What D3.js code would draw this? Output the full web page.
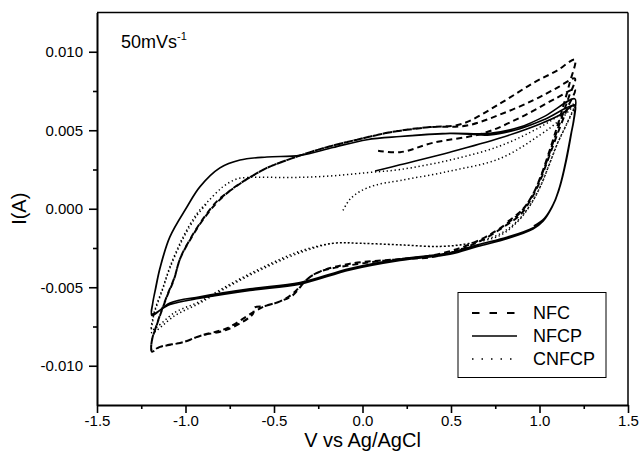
<!DOCTYPE html>
<html>
<head>
<meta charset="utf-8">
<script src="https://cdn.jsdelivr.net/npm/d3@7"></script>
<style>
html,body{margin:0;padding:0;background:#fff;}
svg{display:block;}
text{font-family:"Liberation Sans",Arial,sans-serif;fill:#000;}
</style>
</head>
<body>
<svg id="chart" width="642" height="463"></svg>
<script>
// ---------------- DATA ----------------
const xTicks = [-1.5, -1.0, -0.5, 0.0, 0.5, 1.0, 1.5];
const xMinorTicks = [-1.25, -0.75, -0.25, 0.25, 0.75, 1.25];
const yTicks = [-0.010, -0.005, 0.000, 0.005, 0.010];
const yMinorTicks = [-0.0075, -0.0025, 0.0025, 0.0075];
const seriesNames = ["NFC", "NFCP", "CNFCP"];
const annotation = "50mVs";
const annotationSup = "-1";
const xTitle = "V vs Ag/AgCl";
const yTitle = "I(A)";

// NFC (dashed): [V, I] points along the scan
const nfcPoints = [
  [0.088,0.0037],[0.212,0.0036],[0.398,0.0042],[0.681,0.0048],[0.890,0.0058],[1.088,0.0070],[1.2,0.0076],
  [1.161,0.0065],[1.116,0.0052],[1.076,0.0040],[1.037,0.0028],[0.997,0.0016],[0.952,0.0006],[0.890,-0.0004],[0.805,-0.0011],[0.692,-0.0019],[0.551,-0.0026],[0.381,-0.0031],[0.212,-0.0032],[-0.071,-0.0036],[-0.240,-0.0040],[-0.314,-0.0045],[-0.393,-0.0055],[-0.466,-0.0059],[-0.551,-0.0062],[-0.612,-0.0063],[-0.619,-0.0067],[-0.765,-0.0077],[-0.918,-0.0081],[-1.014,-0.0085],[-1.144,-0.0088],[-1.19,-0.0091],
  [-1.19,-0.0084],[-1.165,-0.0075],[-1.144,-0.0068],[-1.105,-0.0056],[-1.065,-0.0045],[-1.031,-0.0032],[-0.975,-0.0020],[-0.901,-0.0007],[-0.822,0.0004],[-0.732,0.0013],[-0.636,0.0020],[-0.540,0.0026],[-0.427,0.0031],[-0.240,0.0038],[-0.031,0.0044],[0.172,0.0049],[0.381,0.0052],[0.590,0.0053],[0.777,0.0060],[0.963,0.0069],[1.099,0.0077],[1.2,0.0083],
  [1.165,0.0071],[1.122,0.0057],[1.082,0.0044],[1.043,0.0031],[1.003,0.0019],[0.957,0.0008],[0.895,-0.0002],[0.808,-0.0010],[0.695,-0.0018],[0.551,-0.0025],[0.381,-0.0030],[0.212,-0.0032],[-0.071,-0.0035],[-0.240,-0.0040],[-0.314,-0.0045],[-0.393,-0.0054],[-0.466,-0.0059],[-0.551,-0.0062],[-0.619,-0.0066],[-0.765,-0.0076],[-0.918,-0.0081],[-1.014,-0.0085],[-1.144,-0.0088],[-1.19,-0.0090],
  [-1.188,-0.0083],[-1.163,-0.0074],[-1.142,-0.0067],[-1.103,-0.0055],[-1.063,-0.0044],[-1.028,-0.0031],[-0.972,-0.0019],[-0.898,-0.0006],[-0.820,0.0005],[-0.730,0.0013],[-0.636,0.0020],[-0.540,0.0026],[-0.427,0.0031],[-0.240,0.0038],[-0.031,0.0044],[0.172,0.0049],[0.381,0.0052],[0.560,0.0054],[0.777,0.0067],[0.963,0.0080],[1.099,0.0088],[1.2,0.0095],
  [1.170,0.0080],[1.128,0.0063],[1.088,0.0048],[1.048,0.0034],[1.008,0.0021],[0.962,0.0009],[0.900,-0.0001],[0.810,-0.0009]
];

// NFCP (solid)
const nfcpPoints = [
  [0.071,0.0024],[0.212,0.0028],[0.494,0.0036],[0.777,0.0045],[1.003,0.0054],[1.120,0.0060],[1.2,0.0066],
  [1.195,0.0057],[1.172,0.0044],[1.144,0.0028],[1.110,0.0012],[1.071,0.0001],[1.020,-0.0008],[0.963,-0.0013],[0.820,-0.0019],[0.650,-0.0024],[0.494,-0.0029],[0.212,-0.0033],[-0.071,-0.0039],[-0.353,-0.0048],[-0.636,-0.0052],[-0.918,-0.0057],[-1.088,-0.0061],[-1.19,-0.0067],
  [-1.185,-0.0060],[-1.167,-0.0050],[-1.144,-0.0038],[-1.088,-0.0018],[-0.992,0.0001],[-0.918,0.0014],[-0.805,0.0026],[-0.692,0.0031],[-0.540,0.0033],[-0.353,0.0034],[-0.167,0.0039],[0.025,0.0044],[0.212,0.0046],[0.494,0.0048],[0.720,0.0047],[0.890,0.0051],[1.031,0.0057],[1.2,0.0066],
  [1.197,0.0059],[1.175,0.0046],[1.148,0.0030],[1.114,0.0014],[1.075,0.0002],[1.025,-0.0007],[0.965,-0.0012],[0.820,-0.0018],[0.650,-0.0023],[0.494,-0.0028],[0.212,-0.0032],[-0.071,-0.0038],[-0.353,-0.0047],[-0.636,-0.0051],[-0.918,-0.0056],[-1.088,-0.0060],[-1.19,-0.0068],
  [-1.186,-0.0061],[-1.168,-0.0050],[-1.145,-0.0038],[-1.089,-0.0018],[-0.993,0.0001],[-0.919,0.0014],[-0.806,0.0026],[-0.692,0.0031],[-0.540,0.0033],[-0.353,0.0034],[-0.167,0.0039],[0.025,0.0044],[0.212,0.0046],[0.494,0.0048],[0.720,0.0048],[0.890,0.0052],[1.031,0.0059],[1.2,0.0070],
  [1.198,0.0061],[1.180,0.0048],[1.152,0.0031],[1.118,0.0015],[1.078,0.0003],[1.028,-0.0006],[0.968,-0.0011]
];

// CNFCP (dotted)
const cnfcpPoints = [
  [-0.110,-0.0001],[-0.071,0.0006],[-0.014,0.0011],[0.071,0.0015],[0.212,0.0018],[0.494,0.0024],[0.777,0.0032],[1.003,0.0047],[1.120,0.0057],[1.2,0.0066],
  [1.150,0.0053],[1.099,0.0041],[1.054,0.0028],[1.008,0.0015],[0.952,0.0003],[0.878,-0.0008],[0.777,-0.0017],[0.607,-0.0022],[0.438,-0.0024],[0.212,-0.0023],[-0.014,-0.0022],[-0.167,-0.0022],[-0.353,-0.0027],[-0.540,-0.0036],[-0.732,-0.0047],[-0.918,-0.0059],[-1.059,-0.0066],[-1.19,-0.0077],
  [-1.185,-0.0070],[-1.172,-0.0064],[-1.127,-0.0050],[-1.088,-0.0037],[-1.014,-0.0018],[-0.935,-0.0003],[-0.879,0.0004],[-0.788,0.0014],[-0.709,0.0019],[-0.636,0.0020],[-0.540,0.0020],[-0.353,0.0020],[-0.167,0.0021],[0.025,0.0023],[0.212,0.0025],[0.494,0.0031],[0.777,0.0040],[1.003,0.0052],[1.144,0.0062],[1.2,0.0067],
  [1.153,0.0054],[1.103,0.0042],[1.058,0.0029],[1.012,0.0016],[0.956,0.0004],[0.882,-0.0007],[0.777,-0.0016],[0.607,-0.0022],[0.438,-0.0024],[0.212,-0.0023],[-0.014,-0.0022],[-0.167,-0.0022],[-0.353,-0.0028],[-0.540,-0.0037],[-0.732,-0.0048],[-0.918,-0.0060],[-1.059,-0.0068],[-1.19,-0.0079],
  [-1.186,-0.0072],[-1.175,-0.0066],[-1.131,-0.0052],[-1.092,-0.0039],[-1.018,-0.0020],[-0.940,-0.0005],[-0.882,0.0003]
];

// ---------------- CHART ----------------
const svg = d3.select("#chart");
const x = d3.scaleLinear().domain([-1.5, 1.5]).range([97, 628]);
const y = d3.scaleLinear().domain([-0.0125, 0.0125]).range([405, 12.5]);
const fmt = f => (d => d3.format(f)(d).replace("\u2212", "-"));

// frame (top/right)
svg.append("line").attr("x1", x(-1.5)).attr("x2", x(1.5)).attr("y1", y(0.0125)).attr("y2", y(0.0125))
  .attr("stroke", "#000").attr("stroke-width", 1.5);
svg.append("line").attr("x1", x(1.5)).attr("x2", x(1.5)).attr("y1", y(0.0125)).attr("y2", y(-0.0125))
  .attr("stroke", "#000").attr("stroke-width", 1.5);

// curves
const line = d3.line().x(d => x(d[0])).y(d => y(d[1])).curve(d3.curveCatmullRom.alpha(0.5));
const styles = [
  {data: nfcPoints, dash: "6,4", w: 2},
  {data: nfcpPoints, dash: null, w: 1.6},
  {data: cnfcpPoints, dash: "1.3,2.7", w: 1.5}
];
styles.forEach(s => {
  svg.append("path").datum(s.data).attr("d", line)
    .attr("fill", "none").attr("stroke", "#000").attr("stroke-width", s.w)
    .attr("stroke-dasharray", s.dash).attr("stroke-linejoin", "round");
});

// axes
svg.append("g").attr("transform", `translate(0,${y(-0.0125)})`)
  .call(d3.axisBottom(x).tickValues(xTicks).tickFormat(fmt(".1f")).tickSize(8).tickSizeOuter(0).tickPadding(2));
svg.append("g").attr("transform", `translate(0,${y(-0.0125)})`)
  .call(d3.axisBottom(x).tickValues(xMinorTicks).tickFormat("").tickSize(4).tickSizeOuter(0))
  .select(".domain").remove();
svg.append("g").attr("transform", `translate(${x(-1.5)},0)`)
  .call(d3.axisLeft(y).tickValues(yTicks).tickFormat(fmt(".3f")).tickSize(8).tickSizeOuter(0).tickPadding(6));
svg.append("g").attr("transform", `translate(${x(-1.5)},0)`)
  .call(d3.axisLeft(y).tickValues(yMinorTicks).tickFormat("").tickSize(4).tickSizeOuter(0))
  .select(".domain").remove();
svg.selectAll(".domain").attr("stroke", "#000").attr("stroke-width", 2);
svg.selectAll(".tick line").attr("stroke", "#000").attr("stroke-width", 1.6);
svg.selectAll(".tick text").attr("font-family", "Liberation Sans, Arial, sans-serif")
  .attr("font-size", 15).attr("fill", "#000");

// titles
svg.append("text").attr("x", (x(-1.5) + x(1.5)) / 2).attr("y", 447).attr("text-anchor", "middle")
  .attr("font-size", 20).text(xTitle);
svg.append("text").attr("transform", `translate(26,${y(0)}) rotate(-90)`).attr("text-anchor", "middle")
  .attr("font-size", 20).text(yTitle);

// annotation
const ann = svg.append("text").attr("x", 121).attr("y", 48).attr("font-size", 18);
ann.append("tspan").text(annotation);
ann.append("tspan").attr("font-size", 11).attr("dy", -8).text(annotationSup);

// legend
const lg = svg.append("g");
lg.append("rect").attr("x", 458).attr("y", 292.5).attr("width", 148).attr("height", 85)
  .attr("fill", "#fff").attr("stroke", "#000").attr("stroke-width", 1);
const legDash = ["7.5,10", null, "1.5,8"];
const legW = [2, 1.5, 1.5];
seriesNames.forEach((n, i) => {
  const cy = 313 + i * 23;
  lg.append("line").attr("x1", 472).attr("x2", 517).attr("y1", cy).attr("y2", cy)
    .attr("stroke", "#000").attr("stroke-width", legW[i]).attr("stroke-dasharray", legDash[i]);
  lg.append("text").attr("x", 533).attr("y", cy + 6).attr("font-size", 18).text(n);
});
</script>
</body>
</html>
